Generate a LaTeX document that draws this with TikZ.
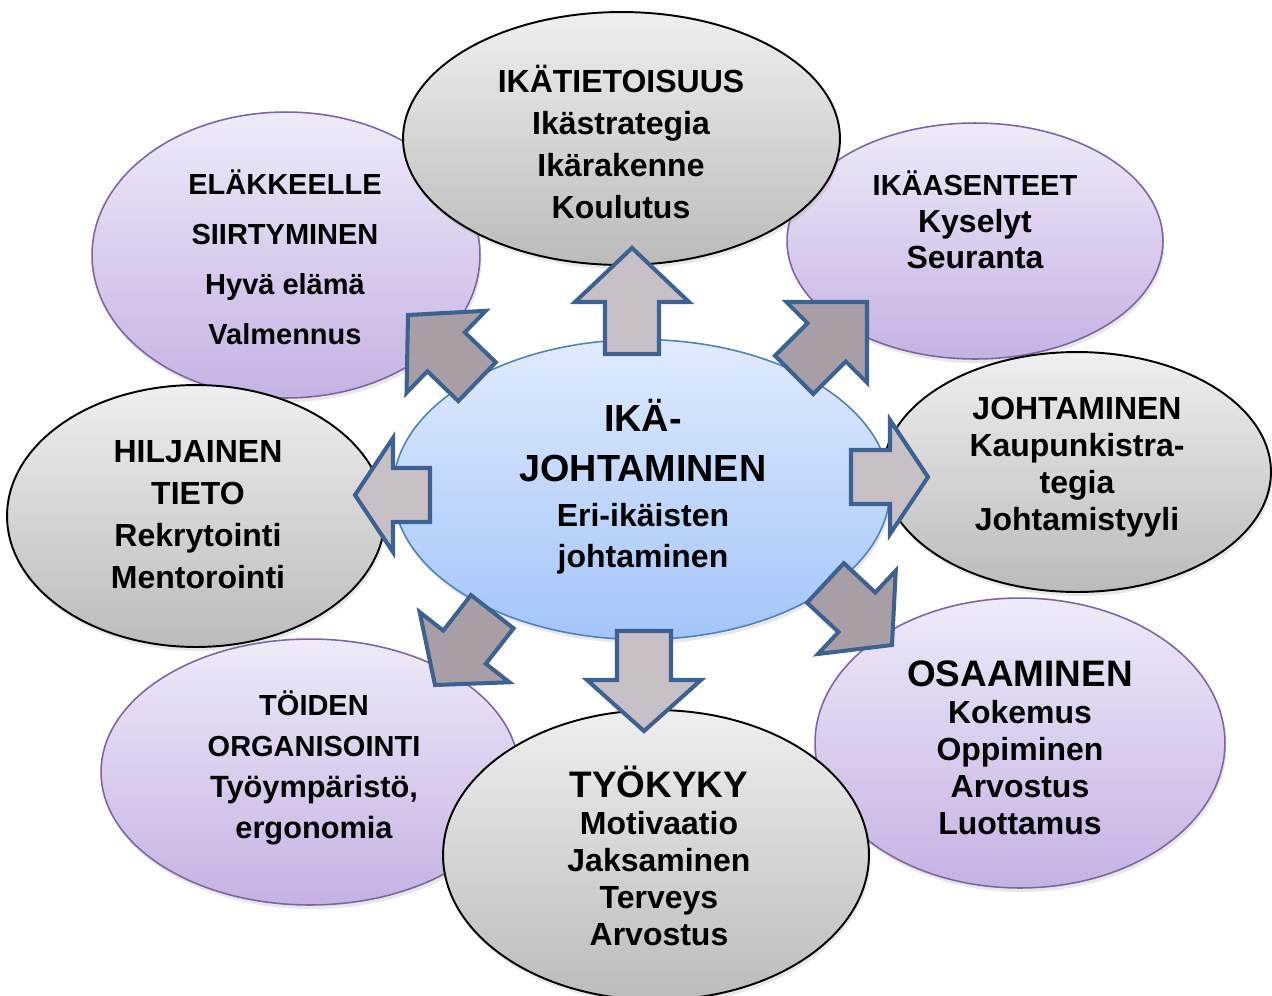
\documentclass[tikz,border=0pt]{standalone}
\usepackage{fontspec}
\setmainfont{Liberation Sans}
\usetikzlibrary{shapes.geometric,shadows}

\definecolor{grayTop}{HTML}{EFEFEF}
\definecolor{grayBot}{HTML}{BBBBBB}
\definecolor{lilaTop}{HTML}{EFEAF8}
\definecolor{lilaBot}{HTML}{C5B2E3}
\definecolor{lilaLine}{HTML}{8064A2}
\definecolor{hubTop}{HTML}{E0EBFD}
\definecolor{hubBot}{HTML}{A3C5FA}
\definecolor{hubLine}{HTML}{4F81BD}
\definecolor{arrowLight}{HTML}{C8C0C7}
\definecolor{arrowDark}{HTML}{A89EA6}
\definecolor{arrowBlue}{HTML}{3D6190}

\tikzset{bubble/.style={ellipse,inner sep=0pt,
           drop shadow={shadow xshift=0.03cm,shadow yshift=-0.08cm,opacity=0.18}},
         graybubble/.style={bubble,draw=black,line width=1.1pt,top color=grayTop,bottom color=grayBot},
         lilabubble/.style={bubble,draw=lilaLine,line width=0.9pt,top color=lilaTop,bottom color=lilaBot},
         hubbubble/.style={bubble,draw=hubLine,line width=0.9pt,top color=hubTop,bottom color=hubBot},
         btext/.style 2 args={align=center,font=\bfseries\fontsize{#1}{#2}\selectfont},
         arrowline/.style={draw=arrowBlue,line width=2.3pt,line join=miter},
         pics/blockarrow/.style args={#1/#2/#3}{code={
           \filldraw[arrowline,fill=#3] (0,0) -- (-#2,57) -- (-#2,27) -- (-#1,27)
             -- (-#1,-27) -- (-#2,-27) -- (-#2,-57) -- cycle;}}
}

\begin{document}
\begin{tikzpicture}[x=0.02cm,y=-0.02cm]
  \useasboundingbox (0,0) rectangle (1272,995);

  % outer ring
  \node[lilabubble, minimum width=7.76cm, minimum height=5.72cm] (elake) at (286,255) {};
  \node[lilabubble, minimum width=7.52cm, minimum height=4.72cm] (asenne) at (975,241) {};
  \node[lilabubble, minimum width=8.2cm, minimum height=5.8cm] (osaa) at (1020,743) {};
  \node[lilabubble, minimum width=8.36cm, minimum height=5.32cm] (toiden) at (310,772) {};
  \node[graybubble, minimum width=8.74cm, minimum height=5.06cm] (tieto) at (621.5,138.5) {};
  \node[graybubble, minimum width=7.76cm, minimum height=4.8cm] (johto) at (1077,472) {};
  \node[graybubble, minimum width=8.52cm, minimum height=5.8cm] (tyokyky) at (656,855) {};
  \node[graybubble, minimum width=7.56cm, minimum height=5.24cm] (hiljainen) at (196,516) {};
  \node[hubbubble, minimum width=9.94cm, minimum height=6cm] (ika) at (641.5,489.5) {};

  % arrows out of the hub
  \pic[rotate=90]  at (632,248) {blockarrow=106/54/arrowLight};
  \pic[rotate=-90] at (644,731) {blockarrow=100/51/arrowLight};
  \pic[rotate=180] at (355,495) {blockarrow=75/38/arrowLight};
  \pic[rotate=0]   at (928,477) {blockarrow=77/38/arrowLight};
  \pic[rotate=136] at (408,315) {blockarrow=96/53/arrowDark};
  \pic[rotate=45]  at (867,302) {blockarrow=103/57/arrowDark};
  \pic[rotate=-43] at (892,645) {blockarrow=91/48/arrowDark};
  \pic[rotate=232] at (435,685) {blockarrow=93/48/arrowDark};

  \node[btext={18.2pt}{23.9pt}] (tietoText) at (621,142) {IKÄTIETOISUUS\\Ikästrategia\\Ikärakenne\\Koulutus};
  \node[btext={16.5pt}{28.5pt}] (elakeText) at (285,257) {ELÄKKEELLE\\SIIRTYMINEN\\Hyvä elämä\\Valmennus};
  \node[btext={18.2pt}{20.8pt}] (asenneText) at (975,220) {{\fontsize{16.5pt}{20pt}\selectfont IKÄASENTEET}\\Kyselyt\\Seuranta};
  \node[btext={18.2pt}{21pt}] (johtoText) at (1077,467) {JOHTAMINEN\\Kaupunkistra-\\tegia\\Johtamistyyli};
  \node[btext={18.2pt}{21pt}] (osaaText) at (1020,748) {{\fontsize{21pt}{21pt}\selectfont OSAAMINEN}\\Kokemus\\Oppiminen\\Arvostus\\Luottamus};
  \node[btext={18.2pt}{21pt}] (tyokykyText) at (659,856) {{\fontsize{21pt}{21pt}\selectfont TYÖKYKY}\\Motivaatio\\Jaksaminen\\Terveys\\Arvostus};
  \node[btext={17.5pt}{23.3pt}] (toidenText) at (314,768) {{\fontsize{16.5pt}{20pt}\selectfont TÖIDEN}\\{\fontsize{16.5pt}{20pt}\selectfont ORGANISOINTI}\\Työympäristö,\\ergonomia};
  \node[btext={18.2pt}{23.9pt}] (hiljainenText) at (198,515) {HILJAINEN\\TIETO\\Rekrytointi\\Mentorointi};
  \node[btext={18.2pt}{23.5pt}] (ikaText) at (643,487) {{\fontsize{21.5pt}{21pt}\selectfont IKÄ-}\\[5pt]{\fontsize{21.5pt}{21pt}\selectfont JOHTAMINEN}\\[2pt]Eri-ikäisten\\johtaminen};
\end{tikzpicture}
\end{document}
